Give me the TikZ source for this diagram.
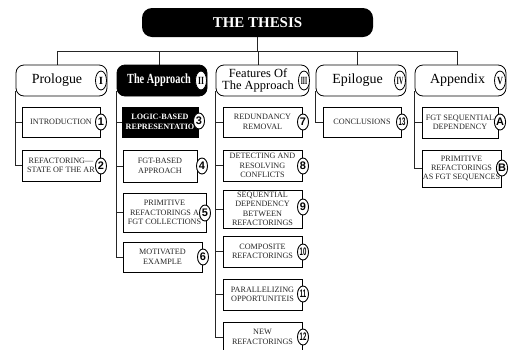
\documentclass[tikz,border=0pt]{standalone}
\usepackage{fontspec}
\setmainfont{Liberation Serif}
\newfontfamily\digitfont{Liberation Sans}
\usetikzlibrary{shapes.geometric,backgrounds,calc}
\tikzset{
  titlebox/.style={fill=black, rounded corners=10bp, text=white, font=\fontsize{15}{17}\selectfont\bfseries, inner sep=0pt},
  secbox/.style={draw=black, line width=0.8bp, rounded corners=8bp, fill=white, minimum height=31bp, inner sep=0pt},
  secblack/.style={secbox, fill=black},
  sectext/.style={font=\fontsize{14}{16}\selectfont, inner sep=0pt, align=center},
  childbox/.style={draw=black, line width=0.8bp, fill=white, text=black!85, font=\fontsize{8.2}{9.5}\selectfont, align=center, inner sep=0pt},
  childblack/.style={childbox, fill=black, text=white, font=\fontsize{8.2}{9.5}\selectfont\bfseries},
  numeral/.style={ellipse, draw=black, line width=0.8bp, fill=white, minimum width=11bp, minimum height=19bp, inner sep=0pt, font=\fontsize{11}{11}\selectfont\bfseries},
  digitmark/.style={ellipse, draw=black, line width=0.9bp, fill=white, minimum width=11bp, minimum height=16bp, inner sep=0pt, font=\digitfont\fontsize{11}{11}\selectfont\bfseries},
  link/.style={draw=black!85, line width=0.7bp}
}
\begin{document}
\begin{tikzpicture}[x=1bp,y=-1bp]
\useasboundingbox (0,0) rectangle (509,349);

% title
\node[titlebox, minimum width=231bp, minimum height=29bp] (thesis) at (257.5,22.5) {THE THESIS};
\coordinate (bus) at (257.5,51);

% sections
\node[secbox, minimum width=91bp] (s1) at (61.5,80.5) {};
\node[sectext] (s1t) at (57,80.5) {Prologue};
\node[numeral] (r1) at (101,80.5) {I};

\node[secblack, minimum width=90bp] (s2) at (162,80.5) {};
\node[sectext, text=white, font=\fontsize{14}{16}\selectfont\bfseries] (s2t) at (159,80.5) {\scalebox{0.74}[1]{The Approach}};
\node[numeral] (r2) at (201,80.5) {\scalebox{0.7}[1]{II}};

\node[secbox, minimum width=93bp] (s3) at (262.5,80.5) {};
\node[sectext, font=\fontsize{12.5}{11.5}\selectfont] (s3t) at (258,80.5) {Features Of\\The Approach};
\node[numeral] (r3) at (304,80.5) {\scalebox{0.5}[1]{III}};

\node[secbox, minimum width=90bp] (s4) at (361,80.5) {};
\node[sectext] (s4t) at (357.5,80.5) {Epilogue};
\node[numeral] (r4) at (400,80.5) {\scalebox{0.55}[1]{IV}};

\node[secbox, minimum width=91bp] (s5) at (460.5,80.5) {};
\node[sectext] (s5t) at (457.5,80.5) {Appendix};
\node[numeral] (r5) at (500,80.5) {\scalebox{0.75}[1]{V}};

% Prologue children
\node[childbox, minimum width=78bp, minimum height=30bp] (p1) at (61,122) {INTRODUCTION};
\node[digitmark] (n1) at (101,122) {1};
\node[childbox, minimum width=78bp, minimum height=31bp] (p2) at (61,165.5) {REFACTORING---\\STATE OF THE AR};
\node[digitmark] (n2) at (101,166) {2};

% Approach children
\node[childblack, minimum width=76bp, minimum height=30bp] (a1) at (160,122) {LOGIC-BASED\\REPRESENTATIO};
\node[digitmark] (n3) at (199,121) {3};
\node[childbox, minimum width=74bp, minimum height=32bp] (a2) at (160,166) {FGT-BASED\\APPROACH};
\node[digitmark] (n4) at (202,166) {4};
\node[childbox, minimum width=83bp, minimum height=39bp] (a3) at (164.5,212.5) {PRIMITIVE\\REFACTORINGS A\\FGT COLLECTIONS};
\node[digitmark] (n5) at (205,213) {5};
\node[childbox, minimum width=79bp, minimum height=30bp] (a4) at (162.5,257) {MOTIVATED\\EXAMPLE};
\node[digitmark] (n6) at (203,257) {6};

% Features children
\node[childbox, minimum width=79bp, minimum height=30bp] (f1) at (262.5,122) {REDUNDANCY\\REMOVAL};
\node[digitmark] (n7) at (303,122) {7};
\node[childbox, minimum width=79bp, minimum height=31bp] (f2) at (262.5,165.5) {DETECTING AND\\RESOLVING\\CONFLICTS};
\node[digitmark] (n8) at (303,166) {8};
\node[childbox, minimum width=79bp, minimum height=38bp] (f3) at (262.5,209) {SEQUENTIAL\\DEPENDENCY\\BETWEEN\\REFACTORINGS};
\node[digitmark] (n9) at (303,207) {9};
\node[childbox, minimum width=79bp, minimum height=31bp] (f4) at (262.5,251.5) {COMPOSITE\\REFACTORINGS};
\node[digitmark] (n10) at (303,252) {\scalebox{0.55}[1]{10}};
\node[childbox, minimum width=79bp, minimum height=31bp] (f5) at (262.5,294.5) {PARALLELIZING\\OPPORTUNITEIS};
\node[digitmark] (n11) at (303,294) {\scalebox{0.55}[1]{11}};
\node[childbox, minimum width=79bp, minimum height=30bp] (f6) at (262.5,337) {NEW\\REFACTORINGS};
\node[digitmark] (n12) at (303,337) {\scalebox{0.55}[1]{12}};

% Epilogue children
\node[childbox, minimum width=78bp, minimum height=30bp] (e1) at (362,122) {CONCLUSIONS};
\node[digitmark] (n13) at (402,122) {\scalebox{0.55}[1]{13}};

% Appendix children
\node[childbox, minimum width=76bp, minimum height=31bp] (x1) at (460,122.5) {FGT SEQUENTIAL\\DEPENDENCY};
\node[digitmark] (nA) at (500,122) {A};
\node[childbox, minimum width=79bp, minimum height=37bp] (x2) at (461.5,168.5) {PRIMITIVE\\REFACTORINGS\\AS FGT SEQUENCES};
\node[digitmark] (nB) at (502,168) {B};

% connectors
\begin{scope}[on background layer]
  \draw[link] (thesis.south) -- (bus);
  \draw[link] (bus -| s1t) -- (bus -| s5t);
  \foreach \s in {s1,s2,s3,s4,s5} {
    \draw[link] (bus -| \s t) -- (\s.north -| \s t);
  }
  % Prologue
  \draw[link] ($(s1.south west)+(0,-5)$) |- (p2.west);
  \draw[link] (p1.west) -- (p1.west -| s1.south west);
  % Approach
  \draw[link] ($(s2.south west)+(0,-5)$) |- (a4.west);
  \foreach \c in {a1,a2,a3} {
    \draw[link] (\c.west) -- (\c.west -| s2.south west);
  }
  % Features
  \draw[link] ($(s3.south west)+(0,-5)$) |- (f6.west);
  \foreach \c in {f1,f2,f3,f4,f5} {
    \draw[link] (\c.west) -- (\c.west -| s3.south west);
  }
  % Epilogue
  \draw[link] ($(s4.south west)+(0,-5)$) |- (e1.west);
  % Appendix
  \draw[link] ($(s5.south west)+(0,-5)$) |- (x2.west);
  \draw[link] (x1.west) -- (x1.west -| s5.south west);
\end{scope}
\end{tikzpicture}
\end{document}
